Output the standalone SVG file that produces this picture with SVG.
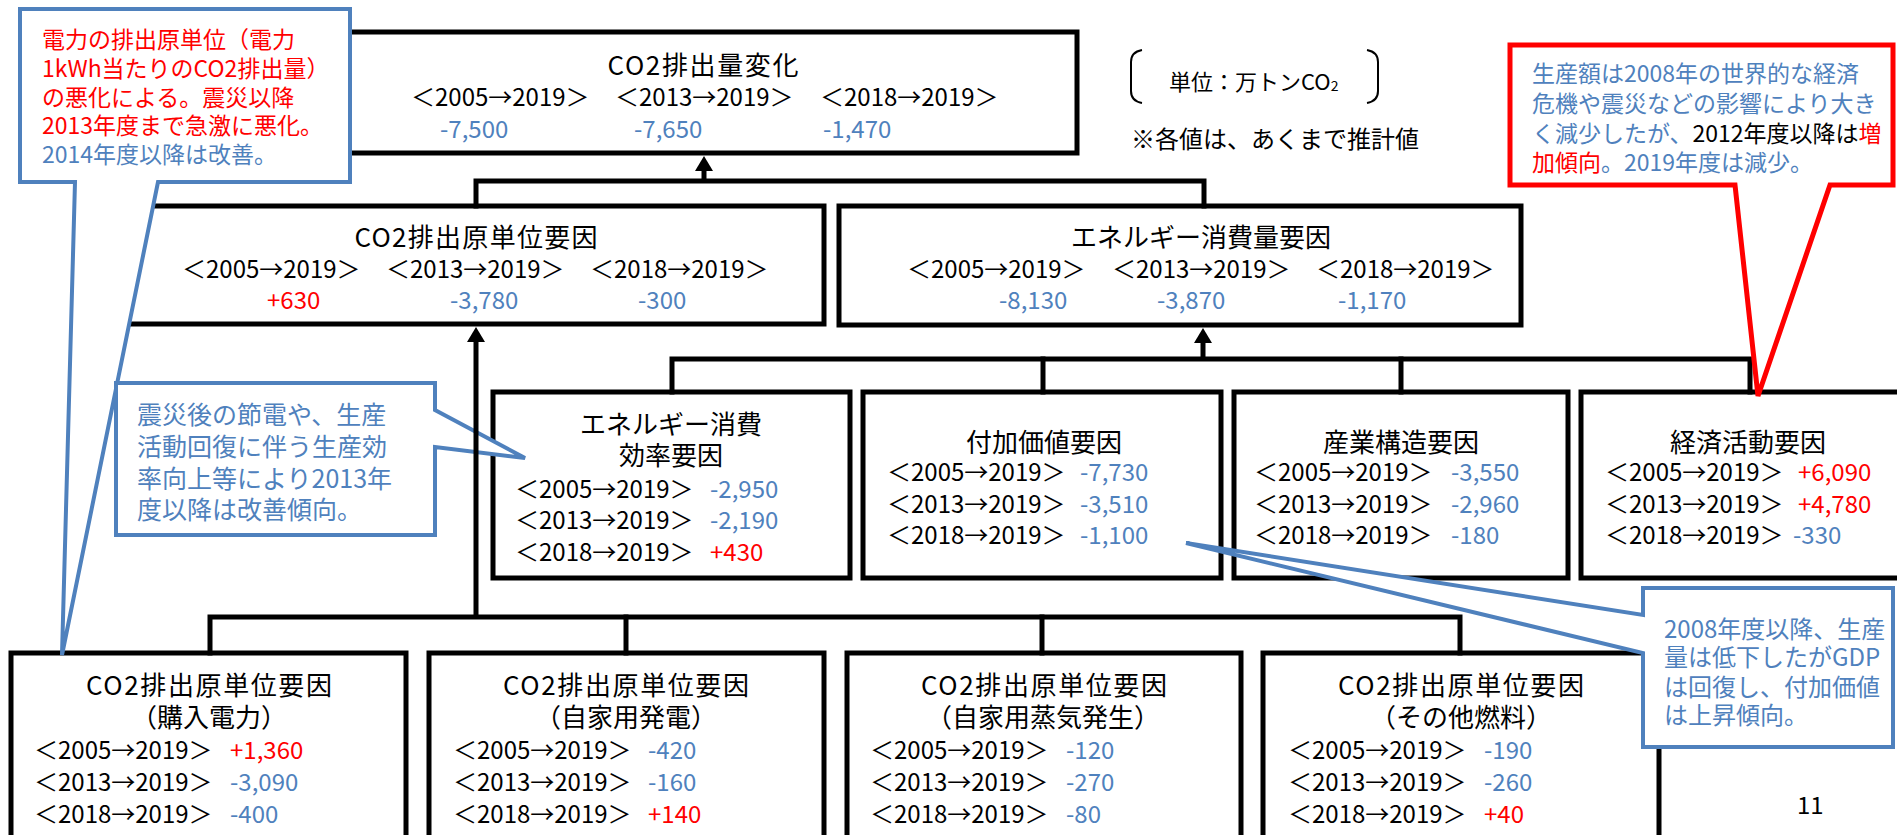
<svg xmlns="http://www.w3.org/2000/svg" width="1897" height="835" viewBox="0 0 1897 835">
<style>
text{font-family:"Noto Sans CJK JP","Noto Sans",sans-serif;dominant-baseline:central}
.box{fill:#fff;stroke:#000;stroke-width:5}
.con{fill:none;stroke:#000;stroke-width:5;stroke-linejoin:miter;stroke-linecap:square}
.ti{font-size:26px;fill:#000;text-anchor:middle}
.h{font-size:24px;fill:#000}
.hc{font-size:24px;fill:#000;text-anchor:middle}
.vb{font-size:24px;fill:#4F81BD}
.vr{font-size:24px;fill:#FF0000}
.cb{fill:#fff;stroke:#4F81BD;stroke-width:4;stroke-linejoin:miter}
.cr{fill:#fff;stroke:#FF0000;stroke-width:5;stroke-linejoin:miter}
.blue{fill:#4F81BD}
.red{fill:#FF0000}
.blk{fill:#000}
.brk{fill:none;stroke:#000;stroke-width:2}
</style>
<defs>
<marker id="ah" markerUnits="userSpaceOnUse" markerWidth="16" markerHeight="18" refX="3" refY="9" orient="auto">
<path d="M0,0 L15,9 L0,18 Z" fill="#000"/>
</marker>
</defs>

<!-- Nodes -->
<g id="total">
<rect class="box" x="330" y="32" width="747" height="121"/>
<text class="ti" x="703" y="63" textLength="191" lengthAdjust="spacing">CO2排出量変化</text>
<text class="h" x="411" y="95">＜2005→2019＞</text>
<text class="h" x="615" y="95">＜2013→2019＞</text>
<text class="h" x="820" y="95">＜2018→2019＞</text>
<text class="vb" x="440" y="127">-7,500</text>
<text class="vb" x="634" y="127">-7,650</text>
<text class="vb" x="823" y="127">-1,470</text>
</g>

<g id="unit">
<path class="brk" d="M1142,50 Q1131,52 1131,62 V91 Q1131,101 1142,103"/>
<path class="brk" d="M1367,50 Q1378,52 1378,62 V91 Q1378,101 1367,103"/>
<text x="1169" y="80" style="font-size:22px;fill:#000">単位：万トンCO<tspan dy="5" style="font-size:14px">2</tspan></text>
<text x="1131" y="137" style="font-size:24px;fill:#000">※各値は、あくまで推計値</text>
</g>

<g id="co2-intensity">
<rect class="box" x="115" y="206" width="709" height="118"/>
<text class="ti" x="476" y="235" textLength="243" lengthAdjust="spacing">CO2排出原単位要因</text>
<text class="h" x="182" y="267">＜2005→2019＞</text>
<text class="h" x="386" y="267">＜2013→2019＞</text>
<text class="h" x="590" y="267">＜2018→2019＞</text>
<text class="vr" x="267" y="298">+630</text>
<text class="vb" x="450" y="298">-3,780</text>
<text class="vb" x="638" y="298">-300</text>
</g>

<g id="energy-consumption">
<rect class="box" x="839" y="206" width="682" height="119"/>
<text class="ti" x="1201" y="235">エネルギー消費量要因</text>
<text class="h" x="907" y="267">＜2005→2019＞</text>
<text class="h" x="1112" y="267">＜2013→2019＞</text>
<text class="h" x="1316" y="267">＜2018→2019＞</text>
<text class="vb" x="999" y="298">-8,130</text>
<text class="vb" x="1157" y="298">-3,870</text>
<text class="vb" x="1338" y="298">-1,170</text>
</g>

<g id="energy-efficiency">
<rect class="box" x="493" y="392" width="357" height="186"/>
<text class="ti" x="671" y="422">エネルギー消費</text>
<text class="ti" x="671" y="453">効率要因</text>
<text class="h" x="515" y="487">＜2005→2019＞</text>
<text class="h" x="515" y="518">＜2013→2019＞</text>
<text class="h" x="515" y="550">＜2018→2019＞</text>
<text class="vb" x="710" y="487">-2,950</text>
<text class="vb" x="710" y="518">-2,190</text>
<text class="vr" x="710" y="550">+430</text>
</g>

<g id="value-added">
<rect class="box" x="863" y="392" width="358" height="186"/>
<text class="ti" x="1044" y="440">付加価値要因</text>
<text class="h" x="887" y="470">＜2005→2019＞</text>
<text class="h" x="887" y="502">＜2013→2019＞</text>
<text class="h" x="887" y="533">＜2018→2019＞</text>
<text class="vb" x="1080" y="470">-7,730</text>
<text class="vb" x="1080" y="502">-3,510</text>
<text class="vb" x="1080" y="533">-1,100</text>
</g>

<g id="industry-structure">
<rect class="box" x="1234" y="392" width="334" height="186"/>
<text class="ti" x="1401" y="440">産業構造要因</text>
<text class="h" x="1254" y="470">＜2005→2019＞</text>
<text class="h" x="1254" y="502">＜2013→2019＞</text>
<text class="h" x="1254" y="533">＜2018→2019＞</text>
<text class="vb" x="1451" y="470">-3,550</text>
<text class="vb" x="1451" y="502">-2,960</text>
<text class="vb" x="1451" y="533">-180</text>
</g>

<g id="economic-activity">
<rect class="box" x="1581" y="392" width="340" height="186"/>
<text class="ti" x="1748" y="440">経済活動要因</text>
<text class="h" x="1605" y="470">＜2005→2019＞</text>
<text class="h" x="1605" y="502">＜2013→2019＞</text>
<text class="h" x="1605" y="533">＜2018→2019＞</text>
<text class="vr" x="1798" y="470">+6,090</text>
<text class="vr" x="1798" y="502">+4,780</text>
<text class="vb" x="1793" y="533">-330</text>
</g>

<g id="purchased-power">
<rect class="box" x="11" y="653" width="395" height="200"/>
<text class="ti" x="209" y="683" textLength="246" lengthAdjust="spacing">CO2排出原単位要因</text>
<text class="ti" x="209" y="715">（購入電力）</text>
<text class="h" x="34" y="748">＜2005→2019＞</text>
<text class="h" x="34" y="780">＜2013→2019＞</text>
<text class="h" x="34" y="812">＜2018→2019＞</text>
<text class="vr" x="230" y="748">+1,360</text>
<text class="vb" x="230" y="780">-3,090</text>
<text class="vb" x="230" y="812">-400</text>
</g>

<g id="private-power">
<rect class="box" x="429" y="653" width="395" height="200"/>
<text class="ti" x="626" y="683" textLength="246" lengthAdjust="spacing">CO2排出原単位要因</text>
<text class="ti" x="626" y="715">（自家用発電）</text>
<text class="h" x="453" y="748">＜2005→2019＞</text>
<text class="h" x="453" y="780">＜2013→2019＞</text>
<text class="h" x="453" y="812">＜2018→2019＞</text>
<text class="vb" x="648" y="748">-420</text>
<text class="vb" x="648" y="780">-160</text>
<text class="vr" x="648" y="812">+140</text>
</g>

<g id="private-steam">
<rect class="box" x="847" y="653" width="394" height="200"/>
<text class="ti" x="1044" y="683" textLength="246" lengthAdjust="spacing">CO2排出原単位要因</text>
<text class="ti" x="1043" y="715">（自家用蒸気発生）</text>
<text class="h" x="870" y="748">＜2005→2019＞</text>
<text class="h" x="870" y="780">＜2013→2019＞</text>
<text class="h" x="870" y="812">＜2018→2019＞</text>
<text class="vb" x="1066" y="748">-120</text>
<text class="vb" x="1066" y="780">-270</text>
<text class="vb" x="1066" y="812">-80</text>
</g>

<g id="other-fuel">
<rect class="box" x="1263" y="653" width="396" height="200"/>
<text class="ti" x="1461" y="683" textLength="246" lengthAdjust="spacing">CO2排出原単位要因</text>
<text class="ti" x="1461" y="715">（その他燃料）</text>
<text class="h" x="1288" y="748">＜2005→2019＞</text>
<text class="h" x="1288" y="780">＜2013→2019＞</text>
<text class="h" x="1288" y="812">＜2018→2019＞</text>
<text class="vb" x="1484" y="748">-190</text>
<text class="vb" x="1484" y="780">-260</text>
<text class="vr" x="1484" y="812">+40</text>
</g>

<!-- Callouts 1 and 2 -->
<g id="note-power">
<path class="cb" d="M20,9 H350 V182 H158 L62,655 L75,182 H20 Z"/>
<text class="red" x="42" y="38" style="font-size:23px">電力の排出原単位（電力</text>
<text class="red" x="42" y="67" style="font-size:23px">1kWh当たりのCO2排出量）</text>
<text class="red" x="42" y="96" style="font-size:23px">の悪化による。震災以降</text>
<text class="red" x="42" y="124" style="font-size:23px">2013年度まで急激に悪化。</text>
<text class="blue" x="42" y="153" style="font-size:23px">2014年度以降は改善。</text>
</g>

<g id="note-efficiency">
<path class="cb" d="M116,383 H435 V410 L525,458 L435,447 V535 H116 Z"/>
<text class="blue" x="137" y="413" style="font-size:25px">震災後の節電や、生産</text>
<text class="blue" x="137" y="445" style="font-size:25px">活動回復に伴う生産効</text>
<text class="blue" x="137" y="477" style="font-size:25px">率向上等により2013年</text>
<text class="blue" x="137" y="508" style="font-size:25px">度以降は改善傾向。</text>
</g>

<!-- Connectors -->
<g id="connectors">
<path class="con" d="M476,206 V181 H1204 V206"/>
<line class="con" x1="704" y1="181" x2="704" y2="168" style="stroke-linecap:butt" marker-end="url(#ah)"/>
<path class="con" d="M672,392 V359 H1750 V392"/>
<path class="con" d="M1043,359 V392"/>
<path class="con" d="M1401,359 V392"/>
<line class="con" x1="1203" y1="359" x2="1203" y2="340" style="stroke-linecap:butt" marker-end="url(#ah)"/>
<path class="con" d="M210,653 V617 H1460 V653"/>
<path class="con" d="M626,617 V653"/>
<path class="con" d="M1042,617 V653"/>
<line class="con" x1="476" y1="617" x2="476" y2="339" style="stroke-linecap:butt" marker-end="url(#ah)"/>
</g>

<!-- Callouts 3 and 4 -->
<g id="note-economy">
<path class="cr" d="M1510,45 H1893 V185 H1830 L1758,396 L1735,185 H1510 Z"/>
<text class="blue" x="1532" y="72" style="font-size:23px">生産額は2008年の世界的な経済</text>
<text class="blue" x="1532" y="102" style="font-size:23px">危機や震災などの影響により大き</text>
<text x="1532" y="132" style="font-size:23px"><tspan class="blue">く減少したが、</tspan><tspan class="blk">2012年度以降は</tspan><tspan class="red">増</tspan></text>
<text x="1532" y="161" style="font-size:23px"><tspan class="red">加傾向</tspan><tspan class="blue">。2019年度は減少。</tspan></text>
</g>

<g id="note-value-added">
<path class="cb" d="M1643,588 H1893 V747 H1643 V653 L1186,543 L1643,615 Z"/>
<text class="blue" x="1664" y="627" style="font-size:24px">2008年度以降、生産</text>
<text class="blue" x="1664" y="655" style="font-size:24px">量は低下したがGDP</text>
<text class="blue" x="1664" y="685" style="font-size:24px">は回復し、付加価値</text>
<text class="blue" x="1664" y="713" style="font-size:24px">は上昇傾向。</text>
</g>

<text id="page" x="1797" y="803" style="font-size:24px;fill:#000">11</text>
</svg>
